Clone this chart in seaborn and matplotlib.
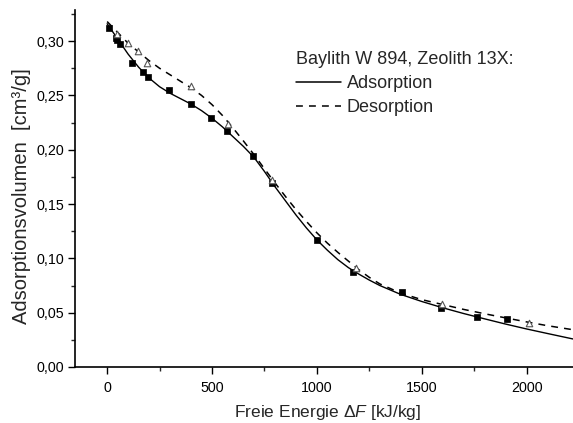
import numpy as np
import pandas as pd
import matplotlib
matplotlib.use("Agg")
import matplotlib.pyplot as plt
import matplotlib.ticker as mticker
from matplotlib.lines import Line2D
import seaborn as sns

# measured points
ads_x = [10, 42, 49, 63, 119, 170, 194, 295, 398, 497, 573, 697, 788, 1002, 1171, 1404, 1590, 1765, 1905]
ads_y = [0.3117, 0.303, 0.301, 0.2975, 0.280, 0.2716, 0.2668, 0.2548, 0.2417, 0.2294, 0.2169,
         0.1944, 0.169, 0.1166, 0.0874, 0.0693, 0.0546, 0.0463, 0.0439]
des_x = [49, 98, 149, 192, 398, 578, 788, 1185, 1595, 2012]
des_y = [0.307, 0.2984, 0.291, 0.2795, 0.2586, 0.2236, 0.172, 0.0908, 0.058, 0.0402]

# fitted curves
fit_ads_x = [0, 50, 100, 150, 200, 250, 300, 350, 400, 450, 500, 550, 600, 650, 700, 750, 800,
             850, 900, 950, 1000, 1050, 1100, 1150, 1200, 1250, 1300, 1400, 1500, 1600, 1700,
             1800, 1900, 2000, 2100, 2221]
fit_ads_y = [0.316, 0.302, 0.288, 0.276, 0.266, 0.258, 0.252, 0.247, 0.242, 0.236, 0.229, 0.221,
             0.212, 0.203, 0.193, 0.180, 0.166, 0.153, 0.140, 0.128, 0.117, 0.1075, 0.0988, 0.0915,
             0.0855, 0.0800, 0.0750, 0.0668, 0.0603, 0.0545, 0.0492, 0.0443, 0.0395, 0.0350, 0.0308, 0.0258]
fit_des_x = [0, 50, 100, 150, 200, 250, 300, 350, 400, 450, 500, 550, 600, 650, 700, 750, 800,
             850, 900, 950, 1000, 1050, 1100, 1150, 1200, 1250, 1300, 1400, 1500, 1600, 1700,
             1800, 1900, 2000, 2100, 2221]
fit_des_y = [0.318, 0.308, 0.298, 0.290, 0.282, 0.275, 0.269, 0.263, 0.257, 0.250, 0.2415, 0.2315,
             0.2200, 0.2080, 0.1955, 0.1825, 0.1695, 0.157, 0.145, 0.134, 0.1235, 0.1140, 0.1055, 0.0975,
             0.0895, 0.0825, 0.0765, 0.0680, 0.0620, 0.0575, 0.0530, 0.0490, 0.0452, 0.0415, 0.0380, 0.0343]

legend_title = "Baylith W 894, Zeolith 13X:"
series_names = ["Adsorption", "Desorption"]
xlabel = r"Freie Energie $\mathit{\Delta F}$ [kJ/kg]"
ylabel = "Adsorptionsvolumen  [cm³/g]"

sns.set_style("ticks")
plt.rcParams["font.family"] = ["Liberation Sans", "DejaVu Sans"]
plt.rcParams["mathtext.fontset"] = "custom"
plt.rcParams["mathtext.rm"] = "Liberation Sans"
plt.rcParams["mathtext.it"] = "Liberation Sans:italic"

fig = plt.figure(figsize=(5.73, 4.23), dpi=100)
ax = fig.add_axes([0.131, 0.1324, 0.869, 0.8436])

DASH = (0, (4.5, 4))
fit_ads = pd.DataFrame({"x": fit_ads_x, "y": fit_ads_y})
fit_des = pd.DataFrame({"x": fit_des_x, "y": fit_des_y})
sns.lineplot(data=fit_ads, x="x", y="y", ax=ax, color="black", lw=1.0, sort=False)
sns.lineplot(data=fit_des, x="x", y="y", ax=ax, color="black", lw=1.1, sort=False, linestyle=DASH)
sns.scatterplot(x=ads_x, y=ads_y, ax=ax, marker="s", s=14, color="black", edgecolor="black",
                linewidth=0.5, zorder=3)
sns.scatterplot(x=des_x, y=des_y, ax=ax, marker="^", s=22, facecolor="white", edgecolor="#555555",
                linewidth=0.8, zorder=3)

ax.set_xlim(-153, 2221)
ax.set_ylim(0, 0.3285)
ax.xaxis.set_major_locator(mticker.MultipleLocator(500))
ax.xaxis.set_minor_locator(mticker.MultipleLocator(250))
ax.yaxis.set_major_locator(mticker.MultipleLocator(0.05))
ax.yaxis.set_minor_locator(mticker.MultipleLocator(0.025))
ax.yaxis.set_major_formatter(mticker.FuncFormatter(lambda v, p: f"{v:.2f}".replace(".", ",")))
ax.xaxis.set_major_formatter(mticker.FuncFormatter(lambda v, p: f"{v:.0f}"))
ax.tick_params(which="major", direction="out", length=5, width=1.0, labelsize=10.3, colors="black")
ax.tick_params(axis="y", which="major", pad=3)
ax.tick_params(axis="x", which="major", pad=5)
ax.tick_params(which="minor", direction="out", length=3, width=1.0)
for s in ["top", "right"]:
    ax.spines[s].set_visible(False)
for s in ["left", "bottom"]:
    ax.spines[s].set_linewidth(1.2)
    ax.spines[s].set_color("black")

ax.set_xlabel(xlabel, fontsize=12.5)
ax.set_ylabel(ylabel, fontsize=14.5)
ax.xaxis.set_label_coords(0.507, -0.101)
ax.yaxis.set_label_coords(-0.088, 0.479)

handles = [Line2D([], [], color="black", lw=1.1),
           Line2D([], [], color="black", lw=1.1, linestyle=DASH)]
leg = ax.legend(handles, series_names, title=legend_title, loc="upper left",
                bbox_to_anchor=(0.444, 0.885), frameon=False, fontsize=13, title_fontsize=13,
                handlelength=2.5, handletextpad=0.3, labelspacing=0.39, borderaxespad=0,
                borderpad=0)
leg._legend_box.align = "left"

fig.savefig("out.png", dpi=100)
